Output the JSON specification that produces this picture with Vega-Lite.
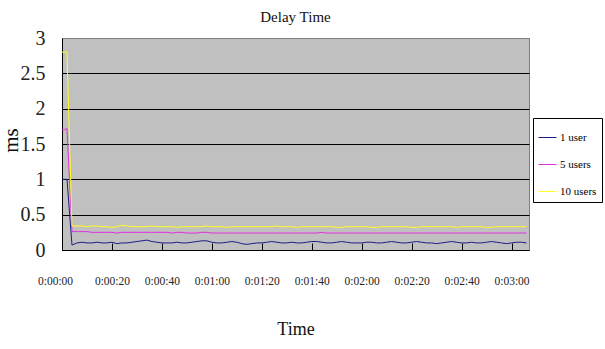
{
  "$schema": "https://vega.github.io/schema/vega-lite/v6.json",
  "width": 467,
  "height": 212,
  "autosize": "none",
  "padding": {"left": 62, "top": 38, "right": 76, "bottom": 99},
  "background": "white",
  "title": {
    "text": "Delay Time",
    "font": "Liberation Serif",
    "fontSize": 15,
    "fontWeight": "normal",
    "color": "#111",
    "anchor": "middle",
    "baseline": "bottom",
    "offset": 0,
    "dy": 12
  },
  "config": {
    "font": "Liberation Serif",
    "view": {"fill": "#c0c0c0", "stroke": "#808080", "strokeWidth": 1}
  },
  "data": {
    "values": [
      {"t": 0, "1 user": 1.0, "5 users": 1.7, "10 users": 2.8},
      {"t": 1, "1 user": 1.0, "5 users": 1.7, "10 users": 2.8},
      {"t": 2, "1 user": 1.0, "5 users": 1.72, "10 users": 2.8},
      {"t": 4, "1 user": 0.07, "5 users": 0.26, "10 users": 0.34},
      {"t": 6, "1 user": 0.1, "5 users": 0.26, "10 users": 0.34},
      {"t": 8, "1 user": 0.11, "5 users": 0.26, "10 users": 0.34},
      {"t": 10, "1 user": 0.1, "5 users": 0.26, "10 users": 0.33},
      {"t": 12, "1 user": 0.1, "5 users": 0.25, "10 users": 0.34},
      {"t": 14, "1 user": 0.11, "5 users": 0.25, "10 users": 0.34},
      {"t": 16, "1 user": 0.1, "5 users": 0.25, "10 users": 0.33},
      {"t": 18, "1 user": 0.1, "5 users": 0.25, "10 users": 0.33},
      {"t": 20, "1 user": 0.11, "5 users": 0.25, "10 users": 0.32},
      {"t": 22, "1 user": 0.09, "5 users": 0.24, "10 users": 0.33},
      {"t": 24, "1 user": 0.1, "5 users": 0.25, "10 users": 0.35},
      {"t": 26, "1 user": 0.1, "5 users": 0.25, "10 users": 0.34},
      {"t": 28, "1 user": 0.11, "5 users": 0.25, "10 users": 0.33},
      {"t": 30, "1 user": 0.12, "5 users": 0.25, "10 users": 0.33},
      {"t": 32, "1 user": 0.13, "5 users": 0.25, "10 users": 0.33},
      {"t": 34, "1 user": 0.14, "5 users": 0.25, "10 users": 0.33},
      {"t": 36, "1 user": 0.12, "5 users": 0.25, "10 users": 0.34},
      {"t": 38, "1 user": 0.11, "5 users": 0.25, "10 users": 0.33},
      {"t": 40, "1 user": 0.1, "5 users": 0.25, "10 users": 0.33},
      {"t": 42, "1 user": 0.1, "5 users": 0.25, "10 users": 0.33},
      {"t": 44, "1 user": 0.1, "5 users": 0.24, "10 users": 0.33},
      {"t": 46, "1 user": 0.11, "5 users": 0.25, "10 users": 0.32},
      {"t": 48, "1 user": 0.1, "5 users": 0.25, "10 users": 0.33},
      {"t": 50, "1 user": 0.1, "5 users": 0.24, "10 users": 0.33},
      {"t": 52, "1 user": 0.11, "5 users": 0.24, "10 users": 0.33},
      {"t": 54, "1 user": 0.12, "5 users": 0.24, "10 users": 0.33},
      {"t": 56, "1 user": 0.13, "5 users": 0.25, "10 users": 0.33},
      {"t": 58, "1 user": 0.13, "5 users": 0.25, "10 users": 0.34},
      {"t": 60, "1 user": 0.11, "5 users": 0.24, "10 users": 0.33},
      {"t": 62, "1 user": 0.1, "5 users": 0.24, "10 users": 0.33},
      {"t": 64, "1 user": 0.1, "5 users": 0.24, "10 users": 0.33},
      {"t": 66, "1 user": 0.11, "5 users": 0.24, "10 users": 0.32},
      {"t": 68, "1 user": 0.12, "5 users": 0.24, "10 users": 0.33},
      {"t": 70, "1 user": 0.11, "5 users": 0.24, "10 users": 0.33},
      {"t": 72, "1 user": 0.09, "5 users": 0.24, "10 users": 0.33},
      {"t": 74, "1 user": 0.08, "5 users": 0.24, "10 users": 0.33},
      {"t": 76, "1 user": 0.09, "5 users": 0.24, "10 users": 0.33},
      {"t": 78, "1 user": 0.1, "5 users": 0.24, "10 users": 0.33},
      {"t": 80, "1 user": 0.1, "5 users": 0.24, "10 users": 0.33},
      {"t": 82, "1 user": 0.11, "5 users": 0.24, "10 users": 0.33},
      {"t": 84, "1 user": 0.12, "5 users": 0.24, "10 users": 0.33},
      {"t": 86, "1 user": 0.11, "5 users": 0.24, "10 users": 0.34},
      {"t": 88, "1 user": 0.1, "5 users": 0.24, "10 users": 0.33},
      {"t": 90, "1 user": 0.1, "5 users": 0.24, "10 users": 0.33},
      {"t": 92, "1 user": 0.11, "5 users": 0.24, "10 users": 0.33},
      {"t": 94, "1 user": 0.1, "5 users": 0.24, "10 users": 0.32},
      {"t": 96, "1 user": 0.1, "5 users": 0.24, "10 users": 0.33},
      {"t": 98, "1 user": 0.11, "5 users": 0.24, "10 users": 0.33},
      {"t": 100, "1 user": 0.12, "5 users": 0.24, "10 users": 0.33},
      {"t": 102, "1 user": 0.12, "5 users": 0.24, "10 users": 0.33},
      {"t": 104, "1 user": 0.11, "5 users": 0.25, "10 users": 0.33},
      {"t": 106, "1 user": 0.1, "5 users": 0.24, "10 users": 0.33},
      {"t": 108, "1 user": 0.1, "5 users": 0.24, "10 users": 0.33},
      {"t": 110, "1 user": 0.11, "5 users": 0.24, "10 users": 0.32},
      {"t": 112, "1 user": 0.12, "5 users": 0.24, "10 users": 0.32},
      {"t": 114, "1 user": 0.11, "5 users": 0.24, "10 users": 0.33},
      {"t": 116, "1 user": 0.1, "5 users": 0.24, "10 users": 0.33},
      {"t": 118, "1 user": 0.1, "5 users": 0.24, "10 users": 0.33},
      {"t": 120, "1 user": 0.1, "5 users": 0.24, "10 users": 0.33},
      {"t": 122, "1 user": 0.11, "5 users": 0.24, "10 users": 0.33},
      {"t": 124, "1 user": 0.11, "5 users": 0.24, "10 users": 0.32},
      {"t": 126, "1 user": 0.1, "5 users": 0.24, "10 users": 0.32},
      {"t": 128, "1 user": 0.1, "5 users": 0.24, "10 users": 0.33},
      {"t": 130, "1 user": 0.11, "5 users": 0.24, "10 users": 0.33},
      {"t": 132, "1 user": 0.12, "5 users": 0.24, "10 users": 0.33},
      {"t": 134, "1 user": 0.11, "5 users": 0.24, "10 users": 0.33},
      {"t": 136, "1 user": 0.1, "5 users": 0.24, "10 users": 0.33},
      {"t": 138, "1 user": 0.1, "5 users": 0.24, "10 users": 0.33},
      {"t": 140, "1 user": 0.11, "5 users": 0.24, "10 users": 0.32},
      {"t": 142, "1 user": 0.12, "5 users": 0.24, "10 users": 0.32},
      {"t": 144, "1 user": 0.11, "5 users": 0.24, "10 users": 0.33},
      {"t": 146, "1 user": 0.1, "5 users": 0.24, "10 users": 0.33},
      {"t": 148, "1 user": 0.1, "5 users": 0.24, "10 users": 0.33},
      {"t": 150, "1 user": 0.09, "5 users": 0.24, "10 users": 0.33},
      {"t": 152, "1 user": 0.1, "5 users": 0.24, "10 users": 0.33},
      {"t": 154, "1 user": 0.11, "5 users": 0.24, "10 users": 0.33},
      {"t": 156, "1 user": 0.12, "5 users": 0.24, "10 users": 0.33},
      {"t": 158, "1 user": 0.11, "5 users": 0.24, "10 users": 0.32},
      {"t": 160, "1 user": 0.1, "5 users": 0.24, "10 users": 0.33},
      {"t": 162, "1 user": 0.1, "5 users": 0.24, "10 users": 0.33},
      {"t": 164, "1 user": 0.11, "5 users": 0.24, "10 users": 0.33},
      {"t": 166, "1 user": 0.1, "5 users": 0.24, "10 users": 0.33},
      {"t": 168, "1 user": 0.1, "5 users": 0.24, "10 users": 0.33},
      {"t": 170, "1 user": 0.11, "5 users": 0.24, "10 users": 0.32},
      {"t": 172, "1 user": 0.12, "5 users": 0.24, "10 users": 0.32},
      {"t": 174, "1 user": 0.11, "5 users": 0.24, "10 users": 0.33},
      {"t": 176, "1 user": 0.1, "5 users": 0.24, "10 users": 0.33},
      {"t": 178, "1 user": 0.09, "5 users": 0.24, "10 users": 0.33},
      {"t": 180, "1 user": 0.1, "5 users": 0.24, "10 users": 0.33},
      {"t": 182, "1 user": 0.11, "5 users": 0.24, "10 users": 0.33},
      {"t": 184, "1 user": 0.11, "5 users": 0.24, "10 users": 0.33},
      {"t": 186, "1 user": 0.1, "5 users": 0.24, "10 users": 0.33}
    ]
  },
  "transform": [
    {"fold": ["1 user", "5 users", "10 users"], "as": ["series", "ms"]}
  ],
  "mark": {"type": "line", "strokeWidth": 1, "clip": true},
  "encoding": {
    "x": {
      "field": "t",
      "type": "quantitative",
      "scale": {"domain": [0, 187], "nice": false, "zero": false},
      "axis": {
        "title": "Time",
        "titleFont": "Liberation Serif",
        "titleFontSize": 18,
        "titleFontWeight": "normal",
        "titleColor": "#111",
        "titlePadding": 34,
        "values": [0, 20, 40, 60, 80, 100, 120, 140, 160, 180],
        "labelExpr": "'0:0' + floor(datum.value / 60) + ':' + (datum.value % 60 < 10 ? '0' : '') + (datum.value % 60)",
        "labelFont": "Liberation Serif",
        "labelFontSize": 11.5,
        "labelColor": "#222",
        "labelFlush": false,
        "labelOffset": {"condition": {"test": "datum.value == 0", "value": -7}, "value": 0},
        "labelPadding": 32,
        "ticks": true,
        "tickSize": -7,
        "tickColor": "black",
        "domainColor": "black",
        "grid": false
      }
    },
    "y": {
      "field": "ms",
      "type": "quantitative",
      "scale": {"domain": [0, 3], "nice": false},
      "axis": {
        "title": "ms",
        "titleFont": "Liberation Serif",
        "titleFontSize": 21,
        "titleFontWeight": "normal",
        "titleColor": "#111",
        "titleAngle": -90,
        "titleBaseline": "alphabetic",
        "titleX": -45,
        "titleY": 102,
        "values": [0, 0.5, 1, 1.5, 2, 2.5, 3],
        "labelExpr": "'' + datum.value",
        "labelFont": "Liberation Serif",
        "labelFontSize": 20,
        "labelColor": "#222",
        "labelPadding": 17,
        "ticks": false,
        "domainColor": "black",
        "grid": true,
        "gridColor": {"condition": {"test": "datum.value == 3", "value": "#808080"}, "value": "black"},
        "gridOpacity": 1,
        "gridWidth": 1
      }
    },
    "color": {
      "field": "series",
      "type": "nominal",
      "scale": {
        "domain": ["1 user", "5 users", "10 users"],
        "range": ["#1c1c86", "#e030e0", "#ffff20"]
      },
      "legend": {
        "title": " ",
        "titleFontSize": 1,
        "titlePadding": 4,
        "orient": "none",
        "legendX": 471,
        "legendY": 80,
        "direction": "vertical",
        "strokeColor": "black",
        "fillColor": "white",
        "padding": 5,
        "symbolType": "stroke",
        "symbolSize": 324,
        "symbolStrokeWidth": 1,
        "symbolOpacity": 1,
        "rowPadding": 12,
        "labelFont": "Liberation Serif",
        "labelFontSize": 11,
        "labelColor": "black",
        "labelOpacity": 1,
        "labelOffset": 3
      }
    }
  }
}
